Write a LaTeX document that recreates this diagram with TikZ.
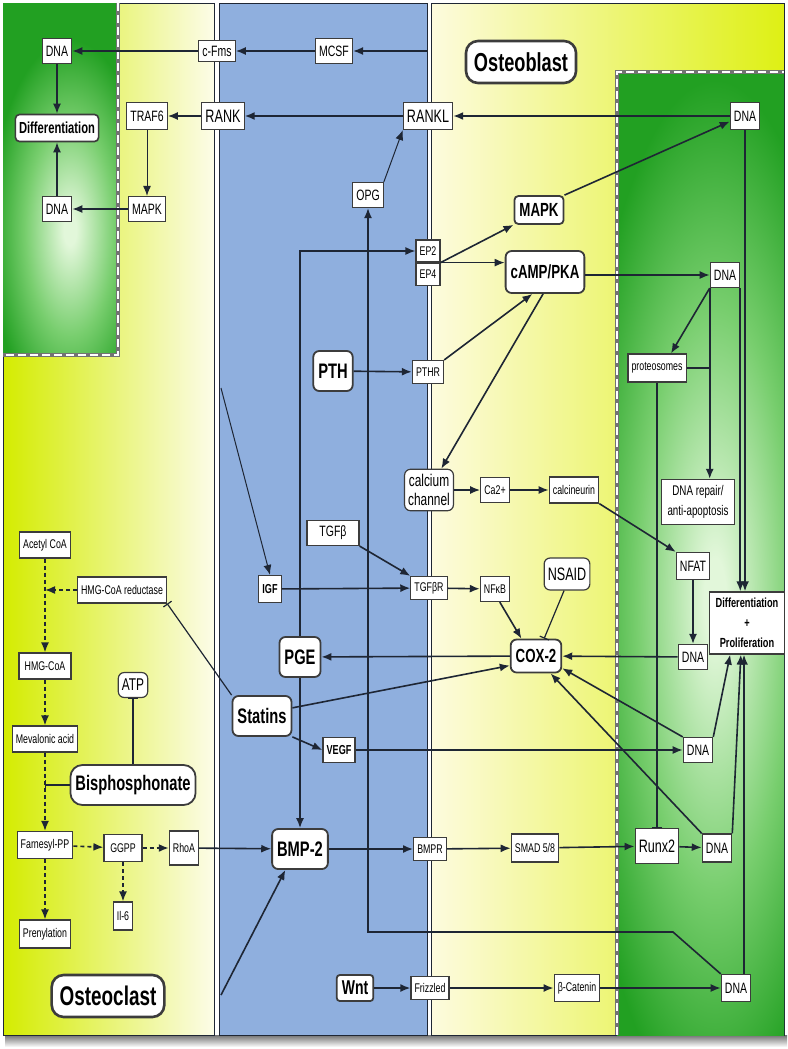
\documentclass[tikz,border=0pt]{standalone}
\usepackage{fontspec}
\usepackage{tikz}
\usetikzlibrary{arrows.meta}
\newfontfamily\cnd{Liberation Sans}[FakeStretch=0.7]
\definecolor{bluecell}{RGB}{143,175,222}
\definecolor{ocleft}{RGB}{212,236,0}
\definecolor{ocmid}{RGB}{238,246,110}
\definecolor{ocright}{RGB}{252,252,232}
\definecolor{obleft}{RGB}{253,251,222}
\definecolor{obmid}{RGB}{245,242,110}
\definecolor{obright}{RGB}{222,240,20}
\definecolor{nucdark}{RGB}{34,160,34}
\definecolor{nucmid}{RGB}{120,206,110}
\definecolor{nuclight}{RGB}{226,247,218}
\definecolor{wire}{RGB}{30,38,52}
\definecolor{boxline}{RGB}{60,60,60}
\pgfdeclareradialshading{nucglow}{\pgfpoint{0bp}{0bp}}{color(0bp)=(nuclight); color(2bp)=(nuclight); color(14bp)=(nucmid); color(25bp)=(nucdark); color(50bp)=(nucdark)}

\tikzset{
  box/.style={draw=boxline, fill=white, line width=0.6pt, inner xsep=1.8pt, inner ysep=1pt,
    minimum height=12.5pt, text=black, font=\cnd\fontsize{7.5}{8}\selectfont},
  sbox/.style={box, font=\cnd\fontsize{6.3}{7}\selectfont, minimum height=11.5pt},
  mbox/.style={box, font=\cnd\fontsize{9}{10}\selectfont, minimum height=13.5pt},
  rbox/.style={box, rounded corners=3pt, line width=0.9pt, font=\cnd\bfseries\fontsize{10.5}{12}\selectfont,
    minimum height=20pt, inner xsep=2.5pt},
  cellname/.style={rbox, rounded corners=6pt, line width=1.3pt, font=\cnd\bfseries\fontsize{13}{15}\selectfont,
    minimum height=21pt, inner xsep=4pt},
  arr/.style={draw=wire, line width=0.8pt, -{Latex[length=5pt,width=4pt]}},
  lightarr/.style={arr, line width=0.5pt},
  darr/.style={arr, dash pattern=on 2pt off 1.5pt},
  inh/.style={draw=wire, line width=0.6pt, -{Bar[width=5pt]}},
  nucedge/.style={line width=2.2pt, draw=black!55},
  nucdash/.style={line width=1.1pt, draw=white, dash pattern=on 4pt off 2pt}
}

\begin{document}
\begin{tikzpicture}[x=0.5pt,y=-0.5pt]
        \useasboundingbox (0,0) rectangle (787,1049);
        \fill[white] (0,0) rectangle (787,1049);
        \shade[top color=black!55, bottom color=white] (5,1035) rectangle (787,1047);
        \shadedraw[left color=ocleft, middle color=ocmid, right color=ocright, draw=wire] (3,3) rectangle (214,1035);
        \filldraw[fill=bluecell, draw=wire] (219,3) rectangle (427,1035);
        \shadedraw[left color=obleft, middle color=obmid, right color=obright, draw=wire] (431,3) rectangle (784,1035);

        \begin{scope}
            \clip (3,3) rectangle (118,355);
            \fill[nucdark] (3,3) rectangle (118,355);
            \shade[shading=nucglow] (-10,40) rectangle (150,420);
        \end{scope}
        \begin{scope}
            \clip (617,72) rectangle (784,1035);
            \fill[nucdark] (617,72) rectangle (784,1035);
            \shade[shading=nucglow] (575,80) rectangle (855,1120);
        \end{scope}
        \draw[nucedge] (118,3) -- (118,355) -- (3,355);
        \draw[nucdash] (118,3) -- (118,355) -- (3,355);
        \draw[nucedge] (617,1035) -- (617,72) -- (784,72);
        \draw[nucdash] (617,1035) -- (617,72) -- (784,72);

        \node[box] (dnaA) at (57,51) {DNA};
        \node[box, rounded corners=2pt, line width=0.8pt, font=\cnd\bfseries\fontsize{8}{9}\selectfont, minimum height=13.5pt] (diffA) at (57,128) {Differentiation};
        \node[box] (dnaB) at (57,209) {DNA};
        \node[box, minimum height=10.5pt] (cfms) at (217,51) {c-Fms};
        \node[box] (mcsf) at (334,51) {MCSF};
        \node[mbox] (rank) at (223,116) {RANK};
        \node[box, minimum height=13.5pt] (traf) at (147,116) {TRAF6};
        \node[box] (mapkA) at (147,209) {MAPK};
        \node[mbox] (rankl) at (428,116) {RANKL};
        \node[box] (opg) at (368,195) {OPG};
        \node[cellname] (oblast) at (521,62) {Osteoblast};
        \node[box, minimum height=13.5pt] (dnaR1) at (745,116) {DNA};
        \node[sbox, minimum height=11pt] (ep2) at (428,251) {EP2};
        \node[sbox, minimum height=11pt, anchor=north] (ep4) at (ep2.south) {EP4};
        \node[rbox, rounded corners=2pt, font=\cnd\bfseries\fontsize{9.5}{11}\selectfont, minimum height=14pt] (mapkB) at (539,210) {MAPK};
        \node[rbox, font=\cnd\bfseries\fontsize{9.5}{11}\selectfont, minimum height=21pt] (camp) at (545,272) {cAMP/PKA};
        \node[box] (dnaR2) at (725,275) {DNA};
        \node[rbox] (pth) at (333,371) {PTH};
        \node[sbox] (pthr) at (428,372) {PTHR};
        \node[sbox, minimum height=14pt] (prot) at (657,368) {proteosomes};
        \node[box, rounded corners=3pt, align=center, font=\cnd\fontsize{8.5}{9.5}\selectfont, inner ysep=2.5pt] (cach) at (429,490) {calcium\\channel};
        \node[sbox, minimum height=12.5pt] (ca2) at (495,490) {Ca2+};
        \node[sbox, minimum height=13pt] (calcin) at (574,490) {calcineurin};
        \node[sbox, align=center, font=\cnd\fontsize{7}{10}\selectfont, inner sep=3pt] (repair) at (698,502) {DNA repair/\\anti-apoptosis};
        \node[box, minimum height=13.5pt] (nfat) at (693,566) {NFAT};
        \node[box] (dnaR3) at (693,657) {DNA};
        \node[box, align=center, line width=0.8pt, font=\cnd\bfseries\fontsize{6.6}{10}\selectfont, inner sep=3pt] (diffB) at (747,623) {Differentiation\\+\\Proliferation};
        \node[box, minimum width=26pt] (tgfb) at (333,533) {TGFβ};
        \node[sbox] (tgfbr) at (429,588) {TGFβR};
        \node[box, font=\cnd\bfseries\fontsize{6.5}{7}\selectfont, minimum height=13.5pt] (igf) at (270,589) {IGF};
        \node[sbox, minimum height=12.5pt] (nfkb) at (495,589) {NFκB};
        \node[box, rounded corners=3pt, font=\cnd\fontsize{9}{10}\selectfont, minimum height=16pt] (nsaid) at (567,574) {NSAID};
        \node[rbox, font=\cnd\bfseries\fontsize{9.5}{11}\selectfont, minimum height=16.5pt] (cox) at (536,656) {COX-2};
        \node[rbox] (pge) at (300,657) {PGE};
        \node[rbox] (statins) at (262,716) {Statins};
        \node[box, font=\cnd\bfseries\fontsize{6.5}{7}\selectfont] (vegf) at (339,750) {VEGF};
        \node[box] (dnaR4) at (698,750) {DNA};
        \node[rbox] (bmp) at (300,849) {BMP-2};
        \node[sbox] (bmpr) at (430,849) {BMPR};
        \node[sbox, minimum height=14pt] (smad) at (535,848) {SMAD 5/8};
        \node[mbox, minimum height=17.5pt] (runx) at (657,846) {Runx2};
        \node[box, minimum height=14pt] (dnaR5) at (717,848) {DNA};
        \node[sbox, minimum height=17pt] (rhoa) at (184,848) {RhoA};
        \node[rbox, font=\cnd\bfseries\fontsize{10}{11}\selectfont, minimum height=13pt, rounded corners=1.5pt] (wnt) at (355,988) {Wnt};
        \node[sbox] (friz) at (430,988) {Frizzled};
        \node[sbox, minimum height=13.5pt] (bcat) at (577,988) {β-Catenin};
        \node[box, minimum height=13.5pt] (dnaR6) at (736,988) {DNA};

        \node[sbox, minimum height=13pt] (acetyl) at (45,545) {Acetyl CoA};
        \node[sbox, minimum height=13pt] (hmgr) at (122,590) {HMG-CoA reductase};
        \node[sbox, minimum height=13pt, minimum width=26pt] (hmg) at (45,666) {HMG-CoA};
        \node[box, rounded corners=3pt, font=\cnd\fontsize{8.5}{9}\selectfont] (atp) at (133,685) {ATP};
        \node[sbox, minimum height=13pt] (meva) at (45,739) {Mevalonic acid};
        \node[rbox, rounded corners=6pt] (bis) at (133,785) {Bisphosphonate};
        \node[sbox, minimum height=13.5pt] (farn) at (45,845) {Farnesyl-PP};
        \node[sbox, minimum height=13.5pt, minimum width=19pt] (ggpp) at (123,848) {GGPP};
        \node[sbox, minimum height=14pt] (il6) at (123,916) {Il-6};
        \node[sbox, minimum height=14pt] (pren) at (45,934) {Prenylation};
        \node[cellname, font=\cnd\bfseries\fontsize{13.5}{15}\selectfont] (oclast) at (108,996) {Osteoclast};

        \coordinate (mcsfin) at (427,51);
        \coordinate (igfin) at (221,388);
        \coordinate (bmpin) at (221,995);
        \coordinate (opgbend) at (673,932);

        \draw[arr] (mcsfin) -- (mcsf);
        \draw[arr] (mcsf) -- (cfms);
        \draw[arr] (cfms) -- (dnaA);
        \draw[arr] (dnaA) -- (diffA);
        \draw[arr] (dnaB) -- (diffA);
        \draw[arr] (rankl) -- (rank);
        \draw[arr] (rank) -- (traf);
        \draw[lightarr] (traf) -- (mapkA);
        \draw[arr] (mapkA) -- (dnaB);
        \draw[arr] (dnaR1) -- (rankl);
        \draw[lightarr] (opg.north east) -- (rankl.south west);
        \draw[arr] (dnaR6.north west) -- (opgbend) -- (opgbend -| opg) -- (opg.south);

        \draw[arr] (pge.north) |- (ep2.west);
        \draw[arr] (pge.south) -- (bmp.north);
        \draw[arr] (ep2.south east) -- (mapkB.south west);
        \draw[arr] (ep2.south east) -- (ep2.south east -| camp.west);
        \draw[arr] (mapkB.north east) -- (dnaR1.200);
        \draw[arr] (dnaR2 -| camp.east) -- (dnaR2);
        \draw[arr] (pth) -- (pthr);
        \draw[arr] (pthr.north east) -- (camp.-120);
        \draw[arr] (camp.-95) -- (cach.60);
        \draw[arr] (cach) -- (ca2);
        \draw[arr] (ca2) -- (calcin);
        \draw[arr] (calcin.south east) -- (nfat.north west);
        \draw[arr] (nfat) -- (dnaR3);

        \draw[arr] (dnaR2.south west) -- ([xshift=7pt]prot.north);
        \draw[arr] (dnaR2.south west) -- (dnaR2.south west |- repair.north);
        \draw[inh] (prot.east) -- (prot.east -| dnaR2.south west);
        \draw[inh] (prot.south) -- (runx.north);
        \draw[arr] (dnaR2.south east) -- (dnaR2.south east |- diffB.north);
        \draw[arr] (dnaR1.south) -- (dnaR1.south |- diffB.north);

        \draw[arr] (tgfb.south east) -- (tgfbr.north west);
        \draw[arr] (igf) -- (tgfbr);
        \draw[lightarr] (igfin) -- (igf.north);
        \draw[arr] (tgfbr) -- (nfkb);
        \draw[arr] (nfkb.-70) -- (cox.130);
        \draw[inh] (nsaid.-100) -- (cox.65);
        \draw[arr] (dnaR3) -- (cox);
        \draw[arr] (cox) -- (pge);
        \draw[arr] (statins.15) -- (cox.200);
        \draw[arr] (statins.south east) -- (vegf.west);
        \draw[inh] (statins.north west) -- (hmgr.south east);
        \draw[arr] (vegf) -- (dnaR4);
        \draw[arr] (dnaR4.north west) -- (cox.-25);
        \draw[arr] (dnaR4.north east) -- (diffB.-118);

        \draw[arr] (rhoa) -- (bmp);
        \draw[arr] (bmpin) -- (bmp.-125);
        \draw[arr] (bmp) -- (bmpr);
        \draw[arr] (bmpr) -- (smad);
        \draw[arr] (smad) -- (runx);
        \draw[arr] (runx) -- (dnaR5);
        \draw[arr] (dnaR5.north west) -- (cox.-50);
        \draw[arr] (dnaR5.north east) -- (diffB.-101);
        \draw[arr] (wnt) -- (friz);
        \draw[arr] (friz) -- (bcat);
        \draw[arr] (bcat) -- (dnaR6);
        \draw[arr] ([xshift=4pt]dnaR6.north) -- ([xshift=4pt]dnaR6.north |- diffB.south);

        \draw[darr] (acetyl) -- (hmg);
        \draw[darr] (hmgr.west) -- (hmgr.west -| acetyl.south);
        \draw[darr] (hmg) -- (meva);
        \draw[darr] (meva) -- (farn);
        \draw[inh] (bis.west) -- (bis.west -| meva.south);
        \draw[inh] (bis.north) -- (atp.south);
        \draw[darr] (farn) -- (ggpp);
        \draw[darr] (ggpp) -- (rhoa);
        \draw[darr] (ggpp) -- (il6);
        \draw[darr] (farn) -- (pren);
\end{tikzpicture}
\end{document}
